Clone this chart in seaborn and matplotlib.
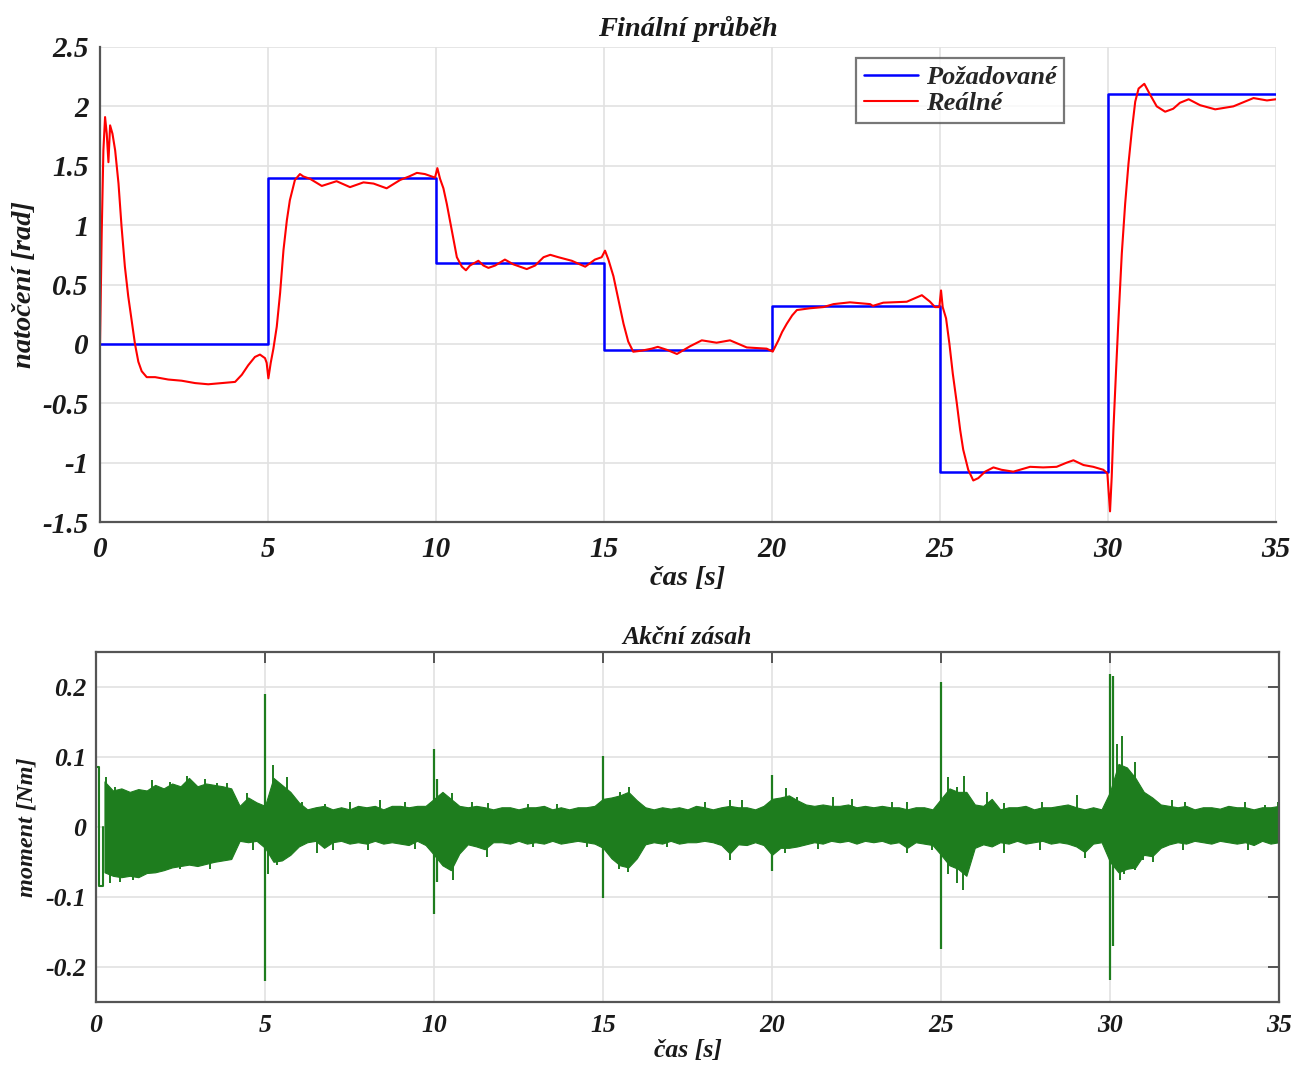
import numpy as np
import pandas as pd
import matplotlib
matplotlib.use("Agg")
import matplotlib.pyplot as plt
import seaborn as sns

# ---- desired angle (step reference) ----
ref_t = [0, 5, 10, 15, 20, 25, 30, 35]
ref_v = [0.0, 1.40, 0.68, -0.05, 0.32, -1.075, 2.10, 2.10]

# ---- measured angle ----
real_t = [0.0, 0.05, 0.1, 0.15, 0.2, 0.25, 0.3, 0.37, 0.45, 0.55, 0.64, 0.74, 0.84, 0.94,
          1.04, 1.14, 1.24, 1.39, 1.64, 2.03, 2.43, 2.83, 3.22, 3.62, 4.02, 4.22, 4.41,
          4.61, 4.76, 4.91, 4.96, 5.01, 5.08, 5.16, 5.26, 5.36, 5.46, 5.56, 5.65, 5.8,
          5.95, 6.05, 6.25, 6.6, 7.04, 7.44, 7.84, 8.14, 8.53, 8.93, 9.2, 9.43, 9.67,
          9.87, 9.97, 10.04, 10.12, 10.22, 10.32, 10.42, 10.52, 10.62, 10.77, 10.89,
          11.01, 11.26, 11.41, 11.56, 11.76, 12.05, 12.3, 12.7, 12.95, 13.2, 13.4, 13.64,
          14.04, 14.44, 14.73, 14.93, 15.03, 15.13, 15.28, 15.43, 15.58, 15.72, 15.87,
          16.12, 16.42, 16.6, 16.87, 17.17, 17.56, 17.91, 18.35, 18.75, 19.25, 19.84,
          20.02, 20.19, 20.3, 20.44, 20.6, 20.74, 21.13, 21.53, 21.83, 22.32, 22.92, 23.0,
          23.31, 24.01, 24.46, 24.7, 24.85, 24.98, 25.03, 25.08, 25.18, 25.28, 25.38,
          25.5, 25.6, 25.69, 25.84, 25.99, 26.14, 26.34, 26.59, 26.83, 27.18, 27.68,
          28.07, 28.47, 28.77, 28.97, 29.27, 29.56, 29.86, 29.98, 30.06, 30.11, 30.16,
          30.24, 30.31, 30.41, 30.51, 30.61, 30.71, 30.81, 30.91, 31.08, 31.25, 31.45,
          31.7, 31.94, 32.14, 32.4, 32.74, 33.19, 33.73, 34.33, 34.73, 35.0]
real_v = [0.0, 0.93, 1.63, 1.91, 1.77, 1.53, 1.84, 1.77, 1.63, 1.35, 0.99, 0.65, 0.40, 0.20,
          0.0, -0.15, -0.23, -0.28, -0.28, -0.30, -0.31, -0.33, -0.34, -0.33, -0.32, -0.26,
          -0.18, -0.11, -0.09, -0.12, -0.16, -0.29, -0.16, -0.04, 0.145, 0.43, 0.79, 1.04,
          1.21, 1.38, 1.43, 1.41, 1.39, 1.33, 1.37, 1.32, 1.36, 1.35, 1.31, 1.38, 1.41,
          1.44, 1.43, 1.41, 1.40, 1.48, 1.39, 1.31, 1.18, 1.03, 0.875, 0.73, 0.65, 0.62,
          0.66, 0.70, 0.66, 0.64, 0.66, 0.71, 0.67, 0.63, 0.66, 0.73, 0.75, 0.73, 0.70,
          0.65, 0.71, 0.73, 0.785, 0.71, 0.57, 0.37, 0.17, 0.02, -0.066, -0.057, -0.04,
          -0.025, -0.05, -0.085, -0.02, 0.03, 0.01, 0.03, -0.03, -0.04, -0.065, 0.03, 0.10,
          0.17, 0.24, 0.285, 0.30, 0.31, 0.335, 0.35, 0.335, 0.32, 0.347, 0.355, 0.41,
          0.356, 0.31, 0.31, 0.45, 0.31, 0.215, 0.0, -0.25, -0.50, -0.725, -0.89, -1.06,
          -1.15, -1.13, -1.076, -1.04, -1.06, -1.076, -1.035, -1.04, -1.035, -1.0, -0.98,
          -1.02, -1.035, -1.06, -1.09, -1.41, -1.12, -0.725, -0.22, 0.20, 0.76, 1.18,
          1.52, 1.80, 2.04, 2.15, 2.19, 2.10, 2.0, 1.955, 1.98, 2.03, 2.06, 2.01, 1.975,
          2.0, 2.07, 2.05, 2.06]

# ---- control torque: envelope of the noisy signal every 0.25 s ----
torque_hi = [0.065, 0.052, 0.055, 0.050, 0.054, 0.052, 0.060, 0.055, 0.062, 0.058, 0.070, 0.058,
             0.062, 0.060, 0.058, 0.055, 0.030, 0.042, 0.035, 0.030, 0.070, 0.060, 0.050, 0.035,
             0.025, 0.028, 0.030, 0.025, 0.028, 0.025, 0.030, 0.028, 0.030, 0.025, 0.030, 0.030,
             0.028, 0.030, 0.030, 0.040, 0.050, 0.040, 0.030, 0.028, 0.030, 0.028, 0.025, 0.028,
             0.028, 0.025, 0.028, 0.028, 0.030, 0.025, 0.028, 0.025, 0.028, 0.028, 0.030, 0.040,
             0.042, 0.045, 0.050, 0.038, 0.028, 0.025, 0.028, 0.026, 0.028, 0.025, 0.030, 0.028,
             0.025, 0.028, 0.030, 0.028, 0.028, 0.025, 0.030, 0.040, 0.042, 0.045, 0.038, 0.032,
             0.030, 0.032, 0.030, 0.030, 0.032, 0.028, 0.030, 0.028, 0.030, 0.028, 0.028, 0.025,
             0.028, 0.028, 0.025, 0.040, 0.055, 0.050, 0.050, 0.032, 0.030, 0.040, 0.025, 0.028,
             0.028, 0.030, 0.025, 0.028, 0.028, 0.030, 0.032, 0.028, 0.025, 0.028, 0.025, 0.050,
             0.090, 0.085, 0.070, 0.050, 0.042, 0.032, 0.030, 0.028, 0.030, 0.025, 0.028, 0.028,
             0.026, 0.030, 0.028, 0.028, 0.025, 0.028, 0.028, 0.030]
torque_lo = [-0.065, -0.070, -0.072, -0.070, -0.072, -0.066, -0.065, -0.062, -0.058, -0.056,
             -0.054, -0.056, -0.053, -0.050, -0.048, -0.046, -0.020, -0.022, -0.020, -0.030,
             -0.050, -0.048, -0.040, -0.028, -0.022, -0.020, -0.030, -0.022, -0.020, -0.024,
             -0.022, -0.024, -0.020, -0.024, -0.022, -0.024, -0.026, -0.020, -0.026, -0.040,
             -0.055, -0.062, -0.038, -0.025, -0.028, -0.032, -0.022, -0.022, -0.024, -0.020,
             -0.024, -0.022, -0.024, -0.020, -0.024, -0.022, -0.020, -0.022, -0.024, -0.030,
             -0.045, -0.055, -0.058, -0.045, -0.025, -0.022, -0.024, -0.020, -0.024, -0.022,
             -0.022, -0.020, -0.022, -0.026, -0.038, -0.025, -0.026, -0.022, -0.026, -0.040,
             -0.030, -0.030, -0.028, -0.025, -0.022, -0.024, -0.020, -0.022, -0.020, -0.024,
             -0.020, -0.022, -0.020, -0.024, -0.022, -0.030, -0.022, -0.024, -0.026, -0.040,
             -0.055, -0.060, -0.070, -0.030, -0.025, -0.028, -0.022, -0.024, -0.020, -0.024,
             -0.022, -0.020, -0.024, -0.022, -0.024, -0.028, -0.036, -0.024, -0.022, -0.050,
             -0.065, -0.060, -0.058, -0.040, -0.042, -0.030, -0.025, -0.022, -0.024, -0.020,
             -0.022, -0.024, -0.020, -0.022, -0.024, -0.022, -0.026, -0.020, -0.024, -0.022]
torque_t = np.arange(1, len(torque_hi) + 1) * 0.25

# individual noise peaks sticking out of the band
peak_t = [0.30, 0.56, 1.65, 2.19, 2.68, 3.22, 3.57, 3.87, 4.46, 5.25, 5.64, 5.84, 6.08, 6.78,
          7.51, 8.40, 9.14, 10.52, 11.11, 11.61, 12.79, 13.63, 15.50, 15.78, 18.02, 18.76,
          19.10, 20.40, 20.73, 21.80, 22.36, 23.54, 23.98, 25.20, 25.46, 25.69, 26.35, 26.85,
          27.98, 29.03, 30.20, 30.35, 30.74, 31.82, 32.22, 34.00, 34.58, 34.98,
          0.41, 0.71, 1.10, 1.40, 2.49, 3.37, 4.65, 5.10, 5.35, 5.69, 6.53, 7.02, 8.06, 9.44,
          10.18, 10.57, 11.56, 12.94, 14.52, 15.46, 15.75, 16.88, 18.76, 20.38, 21.37, 23.98,
          24.72, 25.20, 25.46, 25.66, 26.85, 27.93, 29.26, 30.30, 30.40, 30.74, 30.99, 31.28,
          32.17, 34.09]
peak_v = [0.071, 0.057, 0.067, 0.064, 0.073, 0.069, 0.062, 0.062, 0.048, 0.088, 0.071, 0.038,
          0.036, 0.033, 0.036, 0.038, 0.036, 0.048, 0.036, 0.034, 0.033, 0.033, 0.050, 0.057,
          0.036, 0.038, 0.038, 0.055, 0.043, 0.043, 0.040, 0.036, 0.036, 0.071, 0.057, 0.073,
          0.050, 0.034, 0.036, 0.045, 0.119, 0.130, 0.093, 0.038, 0.036, 0.036, 0.031, 0.036,
          -0.081, -0.079, -0.076, -0.067, -0.060, -0.060, -0.033, -0.067, -0.055, -0.038,
          -0.038, -0.033, -0.033, -0.031, -0.048, -0.076, -0.043, -0.029, -0.029, -0.060,
          -0.064, -0.029, -0.048, -0.038, -0.031, -0.038, -0.033, -0.067, -0.081, -0.090,
          -0.038, -0.033, -0.045, -0.076, -0.067, -0.062, -0.048, -0.050, -0.033, -0.033]

# sharp torque peaks at the set-point changes
spike_t = [5.0, 10.0, 10.08, 15.0, 20.0, 25.0, 30.0, 30.1]
spike_hi = [0.19, 0.112, 0.068, 0.101, 0.074, 0.207, 0.219, 0.215]
spike_lo = [-0.221, -0.124, -0.079, -0.102, -0.063, -0.174, -0.219, -0.171]

# start-up pulse
pulse_t = [0.0, 0.0, 0.1, 0.1, 0.22, 0.22]
pulse_v = [0.0, 0.085, 0.085, -0.085, -0.085, 0.0]

x_ticks = [0, 5, 10, 15, 20, 25, 30, 35]
y1_ticks = [-1.5, -1, -0.5, 0, 0.5, 1, 1.5, 2, 2.5]
y1_labels = ["-1.5", "-1", "-0.5", "0", "0.5", "1", "1.5", "2", "2.5"]
y2_ticks = [-0.2, -0.1, 0, 0.1, 0.2]
y2_labels = ["-0.2", "-0.1", "0", "0.1", "0.2"]

BLUE = "#0000ff"
RED = "#ff0000"
GREEN = "#1e7d1e"
AXC = "#555555"
GRIDC = "#e2e2e2"
TXT = "#1a1a1a"

sns.set_theme(style="white")
plt.rcParams["font.family"] = ["Liberation Serif", "DejaVu Serif"]
plt.rcParams["font.weight"] = "bold"
plt.rcParams["font.style"] = "italic"
plt.rcParams["axes.titleweight"] = "bold"
plt.rcParams["axes.labelweight"] = "bold"

fig = plt.figure(figsize=(12.94, 10.68), dpi=100)
ax1 = fig.add_axes([0.0773, 0.5112, 0.9088, 0.4448])
ax2 = fig.add_axes([0.0742, 0.0621, 0.9142, 0.3274])

# ---------------- upper plot ----------------
ref_df = pd.DataFrame({"t": ref_t, "v": ref_v})
real_df = pd.DataFrame({"t": real_t, "v": real_v})
sns.lineplot(data=ref_df, x="t", y="v", ax=ax1, color=BLUE, lw=1.8,
             drawstyle="steps-post", label="Požadované", estimator=None)
sns.lineplot(data=real_df, x="t", y="v", ax=ax1, color=RED, lw=1.5,
             label="Reálné", estimator=None)

ax1.set_xlim(0, 35)
ax1.set_ylim(-1.5, 2.5)
ax1.set_xticks(x_ticks)
ax1.set_xticklabels([str(v) for v in x_ticks])
ax1.set_yticks(y1_ticks)
ax1.set_yticklabels(y1_labels)
ax1.grid(True, color=GRIDC, lw=1.2)
ax1.set_axisbelow(True)
for s in ["top", "right"]:
    ax1.spines[s].set_visible(False)
for s in ["left", "bottom"]:
    ax1.spines[s].set_color(AXC)
    ax1.spines[s].set_linewidth(1.6)
ax1.tick_params(axis="both", direction="in", length=10, width=1.4, color=AXC,
                labelsize=21, labelcolor=TXT)
ax1.tick_params(axis="x", pad=10)
ax1.tick_params(axis="y", pad=8)
ax1.set_title("Finální průběh", fontsize=20.5, pad=8, color=TXT)
ax1.set_xlabel("čas [s]", fontsize=20.5, labelpad=2, color=TXT)
ax1.set_ylabel("natočení [rad]", fontsize=20.5, labelpad=4, color=TXT)
leg = ax1.legend(loc="upper right", bbox_to_anchor=(0.82, 0.977), fancybox=False,
                 frameon=True, fontsize=19, handlelength=2.05, borderpad=0.3,
                 labelspacing=0.1, handletextpad=0.3, borderaxespad=0)
leg.get_frame().set_edgecolor("#555555")
leg.get_frame().set_linewidth(1.6)

# ---------------- lower plot ----------------
ax2.fill_between(torque_t, torque_lo, torque_hi, color=GREEN, lw=0.8, edgecolor=GREEN)
ax2.vlines(peak_t, 0, peak_v, color=GREEN, lw=1.4)
ax2.vlines(spike_t, spike_lo, spike_hi, color=GREEN, lw=1.6)
sns.lineplot(x=pulse_t, y=pulse_v, ax=ax2, color=GREEN, lw=1.5, sort=False, estimator=None)

ax2.set_xlim(0, 35)
ax2.set_ylim(-0.25, 0.25)
ax2.set_xticks(x_ticks)
ax2.set_xticklabels([str(v) for v in x_ticks])
ax2.set_yticks(y2_ticks)
ax2.set_yticklabels(y2_labels)
ax2.grid(True, color=GRIDC, lw=1.2)
ax2.set_axisbelow(True)
for s in ax2.spines.values():
    s.set_visible(True)
    s.set_color(AXC)
    s.set_linewidth(1.6)
ax2.tick_params(axis="both", direction="in", length=8, width=1.4, color=AXC,
                top=True, right=True, labelsize=18.5, labelcolor=TXT)
ax2.tick_params(axis="x", pad=9)
ax2.tick_params(axis="y", pad=7)
ax2.set_title("Akční zásah", fontsize=18.5, pad=6, color=TXT)
ax2.set_xlabel("čas [s]", fontsize=18.5, labelpad=1, color=TXT)
ax2.set_ylabel("moment [Nm]", fontsize=17.5, labelpad=6, color=TXT)

fig.savefig("out.png", dpi=100, facecolor="white")
